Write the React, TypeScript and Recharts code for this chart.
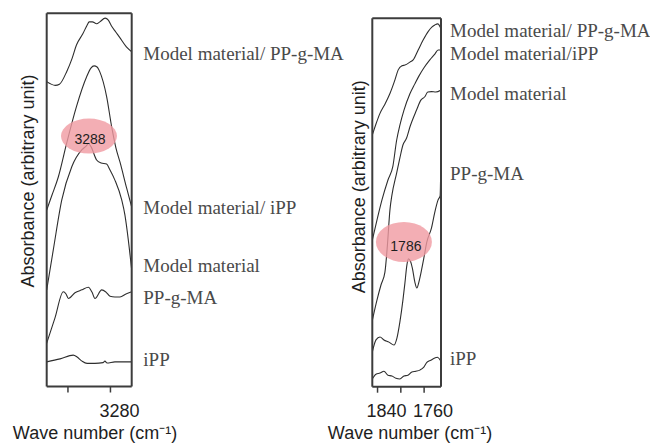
import React from 'react';
import { LineChart, Line, XAxis, YAxis, ReferenceDot } from 'recharts';

type Pt = [number, number];

// ---------------- Left panel (around 3288 cm-1) ----------------
const leftDomain: [number, number] = [3270, 3310];
const leftTicks = [3300, 3280];
const leftTickLabels = ['', '3280'];
const leftNames = ['Model material/ PP-g-MA', 'Model material/ iPP', 'Model material', 'PP-g-MA', 'iPP'];
const leftLabelY = [89.2, 48.1, 32.6, 24.0, 7.4];
const leftPeakText = '3288';
const leftPeakPos: Pt = [3290.1, 67.1];

const leftModelPPgMA: Pt[] = [
  [3310, 81.7], [3306, 80.7], [3304, 81.0], [3300.5, 84.5], [3298, 88], [3296, 91.5], [3293, 94.5],
  [3291, 96.8], [3290, 97.7], [3288.5, 97.7], [3286.5, 97.2], [3285, 97.7], [3282.5, 98.7], [3281, 98.2],
  [3279.5, 96.6], [3277.5, 95], [3275.5, 93.4], [3272.5, 91], [3270, 89.7],
];
const leftModelIPP: Pt[] = [
  [3310, 47.3], [3307.5, 51.3], [3304.5, 56.2], [3300.6, 65.2], [3296, 75], [3291.2, 83], [3289.2, 85.3],
  [3287.7, 85.9], [3286.3, 85.6], [3285, 84.3], [3281.8, 77.7], [3279.4, 69.5], [3277.4, 63.9],
  [3275.5, 60.1], [3272.4, 53.2], [3270, 48.1],
];
const leftModel: Pt[] = [
  [3310, 25.9], [3306.9, 36.6], [3302.9, 50], [3298.2, 58.9], [3293.5, 63.4], [3291.5, 64.4], [3290.3, 65.1],
  [3289.1, 64.2], [3286.5, 60.7], [3284.4, 59.9], [3281.8, 59.6], [3280.2, 58], [3277.9, 55.3],
  [3274.7, 50], [3273.2, 46], [3271.6, 39.3], [3270, 31.2],
];
const leftPPgMA: Pt[] = [
  [3310, 11.6], [3306.1, 18.4], [3302.2, 25.4], [3300.9, 24.8], [3299.8, 23.6], [3296.7, 25.1], [3293.4, 25.9],
  [3290.4, 26.6], [3288.7, 25.3], [3287.3, 23.6], [3284.1, 25.9], [3282.1, 25.3], [3280.2, 24.2],
  [3277.9, 24], [3275.5, 24], [3272.7, 24.8], [3270, 25.4],
];
const leftIPP: Pt[] = [
  [3310, 6.6], [3303.7, 7.4], [3297.5, 8.4], [3295.7, 7.9], [3293.4, 6.8], [3291, 6.2], [3287.3, 6.2],
  [3283.5, 6.4], [3282.6, 6.8], [3281.6, 6.3], [3277.9, 6.6], [3270, 6.6],
];

// ---------------- Right panel (around 1786 cm-1) ----------------
const rightDomain: [number, number] = [1731, 1849];
const rightTicks = [1840, 1800, 1760];
const rightTickLabels = ['1840', '', '1760'];
const rightNames = ['Model material/ PP-g-MA', 'Model material/iPP', 'Model material', 'PP-g-MA', 'iPP'];
const rightLabelY = [96.8, 90.6, 79.7, 58.0, 7.8];
const rightPeakText = '1786';
const rightPeakPos: Pt = [1794.7, 39.3];

const rightModelPPgMA: Pt[] = [
  [1849, 68.3], [1842.7, 71.3], [1835.8, 74.2], [1827.3, 76.7], [1818.7, 79.6], [1810.1, 83.3], [1804.5, 86.0],
  [1798.1, 87.1], [1793.0, 87.3], [1784.4, 88.1], [1778.8, 88.7], [1770.2, 91.4], [1761.7, 94.1],
  [1753.1, 96.4], [1746.8, 97.6], [1741.6, 98.2], [1736.5, 98.5], [1731.4, 97.3],
];
const rightModelIPP: Pt[] = [
  [1849, 39.8], [1841, 45.2], [1832.4, 50.7], [1822.1, 56.1], [1813.6, 59.9], [1807.2, 66.9], [1801.6, 71.0],
  [1794.7, 75.0], [1784.4, 79.5], [1775.9, 82.2], [1769.0, 84.3], [1760.5, 86.5], [1750.2, 88.7],
  [1741.6, 90.3], [1736.0, 91.4], [1731.4, 91.4],
];
const rightModel: Pt[] = [
  [1849, 18.0], [1841, 23.5], [1834.1, 27.6], [1827.3, 31.1], [1823, 38.5], [1818.7, 48.0], [1815.3, 52.0],
  [1807.2, 58.0], [1801.6, 62.1], [1796.4, 65.6], [1790.1, 67.5], [1784.4, 70.5], [1773.0, 75.1],
  [1765.6, 77.8], [1758.8, 78.7], [1753.6, 80.0], [1747.3, 80.1], [1739.9, 80.0], [1731.4, 80.5],
];
const rightPPgMA: Pt[] = [
  [1849, 9.4], [1842.7, 12.7], [1835.8, 13.5], [1829, 12.7], [1820.4, 12.1], [1811.8, 11.3], [1806.7, 13.2],
  [1801.6, 17.6], [1796.4, 23.5], [1793, 28.1], [1789.6, 33.0], [1787, 34.7], [1783.6, 34.1], [1780.2, 32.2],
  [1775.9, 28.4], [1772.5, 26.8], [1769.0, 28.4], [1764.4, 31.7], [1760.5, 34.9], [1755.3, 39.3],
  [1747.3, 43.1], [1741.6, 47.4], [1736, 50.7], [1732.5, 51.8], [1731.4, 59.4],
];
const rightIPP: Pt[] = [
  [1849, 2.1], [1842.7, 3.4], [1835.8, 3.7], [1829, 4.2], [1822.1, 3.1], [1815.3, 2.9], [1808.4, 2.3],
  [1801.6, 2.1], [1794.7, 2.9], [1787.9, 3.1], [1781, 4.0], [1774.2, 4.2], [1767.3, 4.5], [1760.5, 5.3],
  [1755.3, 6.6], [1748.5, 7.2], [1741.6, 7.8], [1737.4, 8.0], [1731.4, 7.0],
];

const X_TITLE = 'Wave number (cm\u207B\u00B9)';
const Y_TITLE = 'Absorbance (arbitrary unit)';

const AXIS = '#3c3c3c';
const LINE = '#2e2e2e';
const SANS = "'Liberation Sans', Arial, sans-serif";
const SERIF = "'Liberation Serif', 'Times New Roman', serif";

interface PanelProps {
  left: number;
  width: number;
  height: number;
  box: { top: number; right: number; bottom: number; left: number };
  domain: [number, number];
  ticks: number[];
  tickLabels: string[];
  series: Pt[][];
  names: string[];
  labelY: number[];
  labelOffset: number;
  peak: Pt;
  peakText: string;
  peakR: [number, number];
  peakTextShift: [number, number];
  yTitle: [number, number];
  xTitle: [number, number];
}

function Panel(p: PanelProps) {
  const renderTick = (props: any) => {
    const { x, y, index } = props;
    const t = p.tickLabels[index] ?? '';
    return (
      <text x={x + 9} y={y + 22} textAnchor="middle" fontFamily={SANS} fontSize={18} fill="#1e1e1e">
        {t}
      </text>
    );
  };
  const xTitle = () => (
    <text x={p.xTitle[0]} y={p.xTitle[1]} textAnchor="middle" fontFamily={SANS} fontSize={18} fill="#1e1e1e">
      {X_TITLE}
    </text>
  );
  const yTitle = () => (
    <text
      x={p.yTitle[0]}
      y={p.yTitle[1]}
      transform={`rotate(-90, ${p.yTitle[0]}, ${p.yTitle[1]})`}
      textAnchor="middle"
      dominantBaseline="central"
      fontFamily={SANS}
      fontSize={18}
      fill="#1e1e1e"
    >
      {Y_TITLE}
    </text>
  );
  const ellipse = (props: any) => (
    <g>
      <ellipse cx={props.cx} cy={props.cy} rx={p.peakR[0]} ry={p.peakR[1]} fill="#f09aa1" fillOpacity={0.8} />
      <text
        x={props.cx + p.peakTextShift[0]}
        y={props.cy + p.peakTextShift[1]}
        textAnchor="middle"
        dominantBaseline="central"
        fontFamily={SANS}
        fontSize={14}
        fill="#1e1e1e"
      >
        {p.peakText}
      </text>
    </g>
  );
  const xEnd = Math.min(p.domain[0], p.domain[1]);
  // axes take 1px each; margins are the box edges minus that
  const margin = { top: p.box.top - 1, right: p.box.right - 1, bottom: p.box.bottom - 1, left: p.box.left - 1 };
  return (
    <div style={{ position: 'absolute', left: p.left, top: 0 }}>
      <LineChart width={p.width} height={p.height} margin={margin}>
        <XAxis
          xAxisId="b"
          type="number"
          dataKey="wn"
          domain={p.domain}
          reversed
          allowDataOverflow
          ticks={p.ticks}
          interval={0}
          height={1}
          tickSize={6}
          tickLine={{ stroke: AXIS, strokeWidth: 1.5 }}
          axisLine={{ stroke: AXIS, strokeWidth: 2 }}
          tick={renderTick}
          label={{ content: xTitle }}
        />
        <XAxis
          xAxisId="t"
          orientation="top"
          type="number"
          dataKey="wn"
          domain={p.domain}
          reversed
          allowDataOverflow
          height={1}
          tick={false}
          tickLine={false}
          axisLine={{ stroke: AXIS, strokeWidth: 2 }}
        />
        <YAxis
          yAxisId="l"
          type="number"
          domain={[0, 100]}
          allowDataOverflow
          width={1}
          tick={false}
          tickLine={false}
          axisLine={{ stroke: AXIS, strokeWidth: 2 }}
          label={{ content: yTitle }}
        />
        <YAxis
          yAxisId="r"
          orientation="right"
          type="number"
          domain={[0, 100]}
          allowDataOverflow
          width={1}
          tick={false}
          tickLine={false}
          axisLine={{ stroke: AXIS, strokeWidth: 2 }}
        />
        <ReferenceDot
          xAxisId="b"
          yAxisId="l"
          x={p.peak[0]}
          y={p.peak[1]}
          r={20}
          ifOverflow="visible"
          shape={ellipse}
        />
        {p.series.map((s, i) => (
          <Line
            key={p.names[i]}
            xAxisId="b"
            yAxisId="l"
            data={s.map(([wn, a]) => ({ wn, a }))}
            dataKey="a"
            name={p.names[i]}
            type="monotone"
            stroke={LINE}
            strokeWidth={1.1}
            dot={false}
            activeDot={false}
            isAnimationActive={false}
          />
        ))}
        {p.names.map((n, i) => (
          <ReferenceDot
            key={'lab' + i}
            xAxisId="b"
            yAxisId="l"
            x={xEnd}
            y={p.labelY[i]}
            r={0}
            ifOverflow="visible"
            fill="none"
            stroke="none"
            label={{
              value: n,
              position: 'right',
              offset: p.labelOffset,
              fill: '#4a4a4a',
              fontSize: 19,
              fontFamily: SERIF,
            }}
          />
        ))}
      </LineChart>
    </div>
  );
}

export default function App() {
  return (
    <div style={{ position: 'absolute', left: 0, top: 0, width: 650, height: 444, background: '#fff' }}>
      <Panel
        left={0}
        width={345}
        height={444}
        box={{ top: 13.3, right: 213.3, bottom: 57.5, left: 46.7 }}
        domain={leftDomain}
        ticks={leftTicks}
        tickLabels={leftTickLabels}
        series={[leftModelPPgMA, leftModelIPP, leftModel, leftPPgMA, leftIPP]}
        names={leftNames}
        labelY={leftLabelY}
        labelOffset={11.6}
        peak={leftPeakPos}
        peakText={leftPeakText}
        peakR={[28, 17.5]}
        peakTextShift={[1, 3]}
        yTitle={[28.3, 181]}
        xTitle={[95, 439]}
      />
      <Panel
        left={320}
        width={330}
        height={444}
        box={{ top: 18.3, right: 209, bottom: 57.3, left: 52.3 }}
        domain={rightDomain}
        ticks={rightTicks}
        tickLabels={rightTickLabels}
        series={[rightModelPPgMA, rightModelIPP, rightModel, rightPPgMA, rightIPP]}
        names={rightNames}
        labelY={rightLabelY}
        labelOffset={9}
        peak={rightPeakPos}
        peakText={rightPeakText}
        peakR={[28, 20]}
        peakTextShift={[2, 4.5]}
        yTitle={[39, 186.7]}
        xTitle={[90, 439]}
      />
    </div>
  );
}
